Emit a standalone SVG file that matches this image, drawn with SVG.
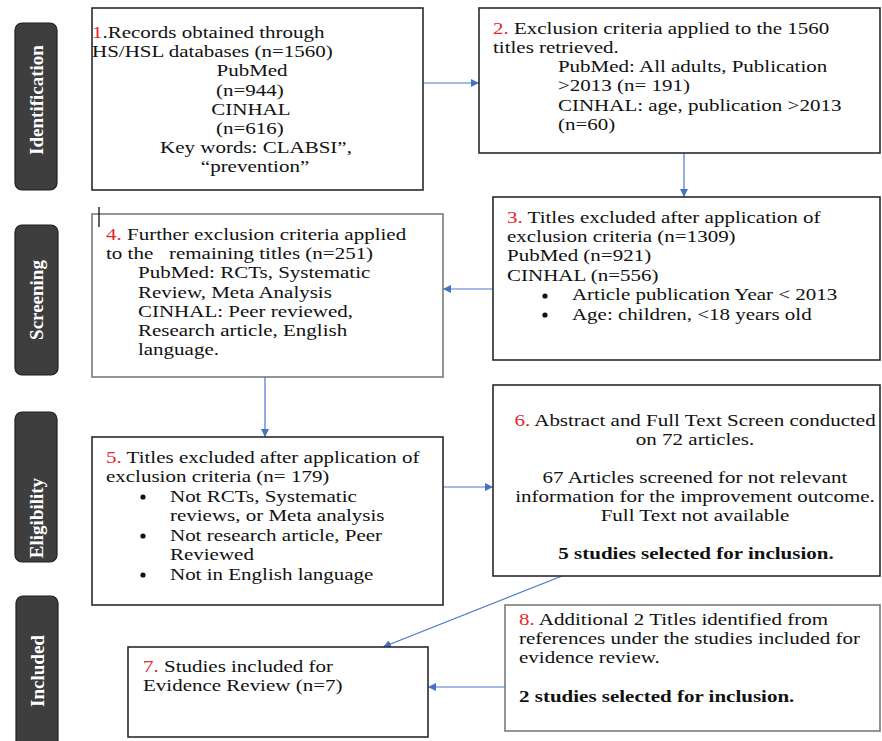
<svg xmlns="http://www.w3.org/2000/svg" width="882" height="741" viewBox="0 0 882 741">
<style>
.t{font-family:"Liberation Serif","Times New Roman",serif;font-size:17px;fill:#111}
.b{font-weight:bold}
.r{fill:#e3262b}
.c{text-anchor:middle}
.box{fill:#fff;stroke:#2a2a2a;stroke-width:1.6}
.gbox{fill:#fff;stroke:#7a7a7a;stroke-width:1.6}
.side{fill:#3e3e3e;stroke:#1e1e1e;stroke-width:1.2}
.st{font-family:"Liberation Serif","Times New Roman",serif;font-size:19px;font-weight:bold;fill:#fff;text-anchor:middle}
.ln{stroke:#4a78c8;stroke-width:1.2;fill:none}
.dot{fill:#111}
</style>
<defs>
<marker id="ah" viewBox="0 0 10 10" refX="10" refY="5" markerWidth="8" markerHeight="8" markerUnits="userSpaceOnUse" orient="auto">
<path d="M0,0 L10,5 L0,10 z" fill="#4472c4"/>
</marker>
</defs>
<rect width="882" height="741" fill="#fff"/>

<g id="stages">
<g id="stage-identification"><rect class="side" x="15" y="23" width="42" height="167" rx="7"/><text class="st" transform="translate(43,100) rotate(-90)">Identification</text></g>
<g id="stage-screening"><rect class="side" x="15" y="225" width="43" height="150" rx="7"/><text class="st" transform="translate(43,300) rotate(-90)">Screening</text></g>
<g id="stage-eligibility"><rect class="side" x="15" y="412" width="42" height="150" rx="7"/><text class="st" transform="translate(43,518) rotate(-90)">Eligibility</text></g>
<g id="stage-included"><rect class="side" x="16" y="596" width="42" height="160" rx="7"/><text class="st" transform="translate(44,671) rotate(-90)">Included</text></g>
</g>

<g id="connectors">
<line class="ln" x1="423" y1="83" x2="479" y2="83" marker-end="url(#ah)"/>
<line class="ln" x1="684" y1="153" x2="684" y2="197" marker-end="url(#ah)"/>
<line class="ln" x1="506" y1="289" x2="443" y2="289" marker-end="url(#ah)"/>
<line class="ln" x1="265" y1="377" x2="265" y2="437" marker-end="url(#ah)"/>
<line class="ln" x1="443" y1="487" x2="493" y2="487" marker-end="url(#ah)"/>
<line class="ln" x1="562" y1="576" x2="383" y2="647" marker-end="url(#ah)"/>
<line class="ln" x1="505" y1="687" x2="428" y2="687" marker-end="url(#ah)"/>
</g>

<g id="node1">
<rect class="box" x="92" y="8" width="331" height="182"/>
<g transform="translate(92,0) scale(1.235,1)">
<text class="t" x="0" y="38"><tspan class="r">1</tspan>.Records obtained through</text>
<text class="t" x="0" y="57.2">HS/HSL databases (n=1560)</text>
<text class="t c" x="129.6" y="76.4">PubMed</text>
<text class="t c" x="127.9" y="95.6">(n=944)</text>
<text class="t c" x="128.7" y="114.8">CINHAL</text>
<text class="t c" x="127.9" y="134">(n=616)</text>
<text class="t c" x="132.8" y="153.2">Key words: CLABSI”,</text>
<text class="t c" x="132" y="172.4">“prevention”</text>
</g>
</g>

<g id="node2">
<rect class="box" x="479" y="8" width="401" height="145"/>
<g transform="translate(493,0) scale(1.235,1)">
<text class="t" x="0" y="34"><tspan class="r">2.</tspan> Exclusion criteria applied to the 1560</text>
<text class="t" x="0" y="53">titles retrieved.</text>
<text class="t" x="52.6" y="72.5">PubMed: All adults, Publication</text>
<text class="t" x="52.6" y="91.5">&gt;2013 (n= 191)</text>
<text class="t" x="52.6" y="111">CINHAL: age, publication &gt;2013</text>
<text class="t" x="52.6" y="130">(n=60)</text>
</g>
</g>

<g id="node3">
<rect class="box" x="493" y="197" width="387" height="163"/>
<circle class="dot" cx="545" cy="296" r="2.6"/>
<circle class="dot" cx="545" cy="315" r="2.6"/>
<g transform="translate(507,0) scale(1.235,1)">
<text class="t" x="0" y="223"><tspan class="r">3.</tspan> Titles excluded after application of</text>
<text class="t" x="0" y="242.2">exclusion criteria (n=1309)</text>
<text class="t" x="0" y="261.4">PubMed (n=921)</text>
<text class="t" x="0" y="280.6">CINHAL (n=556)</text>
<text class="t" x="52.6" y="300.5">Article publication Year &lt; 2013</text>
<text class="t" x="52.6" y="319.7">Age: children, &lt;18 years old</text>
</g>
</g>

<g id="node4">
<rect class="gbox" x="92" y="214" width="351" height="163"/>
<line x1="99" y1="207" x2="99" y2="227" stroke="#111" stroke-width="1.3"/>
<g transform="translate(106,0) scale(1.235,1)">
<text class="t" x="0" y="240"><tspan class="r">4.</tspan> Further exclusion criteria applied</text>
<text class="t" x="0" y="259.2" style="white-space:pre">to the   remaining titles (n=251)</text>
<text class="t" x="25.9" y="278.4">PubMed: RCTs, Systematic</text>
<text class="t" x="25.9" y="297.6">Review, Meta Analysis</text>
<text class="t" x="25.9" y="316.8">CINHAL: Peer reviewed,</text>
<text class="t" x="25.9" y="336">Research article, English</text>
<text class="t" x="25.9" y="355.2">language.</text>
</g>
</g>

<g id="node5">
<rect class="box" x="92" y="437" width="351" height="168"/>
<circle class="dot" cx="143" cy="497" r="2.6"/>
<circle class="dot" cx="143" cy="536" r="2.6"/>
<circle class="dot" cx="143" cy="575" r="2.6"/>
<g transform="translate(106,0) scale(1.235,1)">
<text class="t" x="0" y="463"><tspan class="r">5.</tspan> Titles excluded after application of</text>
<text class="t" x="0" y="482.5">exclusion criteria (n= 179)</text>
<text class="t" x="51.8" y="502">Not RCTs, Systematic</text>
<text class="t" x="51.8" y="521.5">reviews, or Meta analysis</text>
<text class="t" x="51.8" y="541">Not research article, Peer</text>
<text class="t" x="51.8" y="560.5">Reviewed</text>
<text class="t" x="51.8" y="580">Not in English language</text>
</g>
</g>

<g id="node6">
<rect class="box" x="493" y="385" width="387" height="191"/>
<g transform="translate(695,0) scale(1.235,1)">
<text class="t c" x="0" y="426"><tspan class="r">6.</tspan> Abstract and Full Text Screen conducted</text>
<text class="t c" x="0" y="445">on 72 articles.</text>
<text class="t c" x="0" y="483">67 Articles screened for not relevant</text>
<text class="t c" x="0" y="502">information for the improvement outcome.</text>
<text class="t c" x="0" y="521">Full Text not available</text>
<text class="t c b" x="0.8" y="559">5 studies selected for inclusion.</text>
</g>
</g>

<g id="node7">
<rect class="box" x="128" y="647" width="300" height="90"/>
<g transform="translate(143,0) scale(1.235,1)">
<text class="t" x="0" y="672"><tspan class="r">7.</tspan> Studies included for</text>
<text class="t" x="0" y="691">Evidence Review (n=7)</text>
</g>
</g>

<g id="node8">
<rect class="gbox" x="505" y="605" width="375" height="126"/>
<g transform="translate(519,0) scale(1.235,1)">
<text class="t" x="0" y="625"><tspan class="r">8.</tspan> Additional 2 Titles identified from</text>
<text class="t" x="0" y="644">references under the studies included for</text>
<text class="t" x="0" y="663">evidence review.</text>
<text class="t b" x="0" y="702">2 studies selected for inclusion.</text>
</g>
</g>
</svg>
